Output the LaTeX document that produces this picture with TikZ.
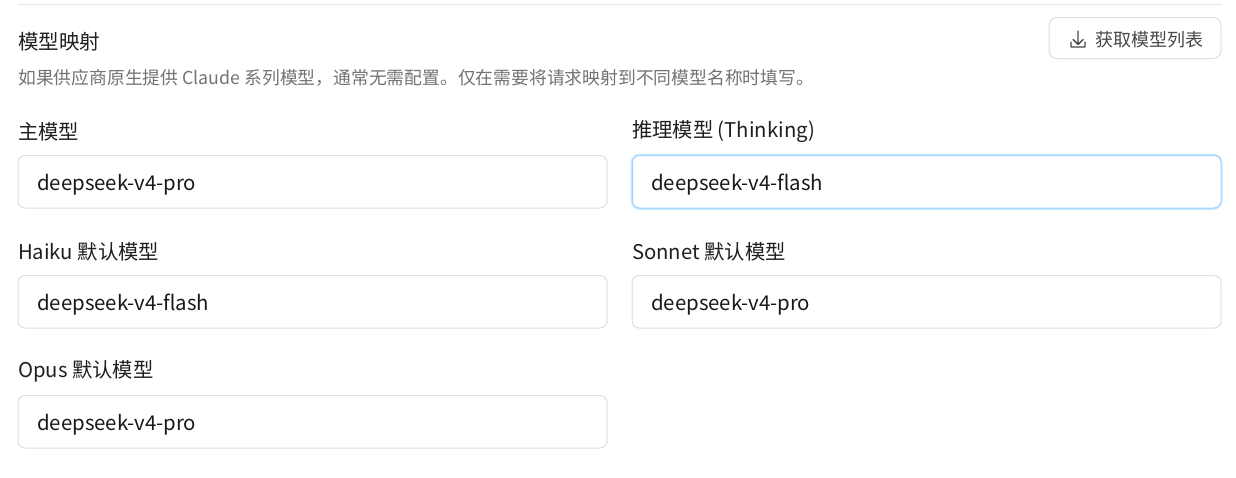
\documentclass[tikz,border=0pt]{standalone}
\usepackage{fontspec}
\setmainfont{Noto Sans CJK SC}
\begin{document}
\begin{tikzpicture}[x=1pt,y=-1pt,
  lab/.style={anchor=west,inner sep=0,font=\fontsize{20.3}{24}\selectfont,text=black!88},
  val/.style={anchor=west,inner sep=0,font=\fontsize{20.4}{24}\selectfont,text=black!90},
  box/.style={draw=black!13,line width=1pt,rounded corners=7pt,fill=white}]
\useasboundingbox[fill=white] (0,0) rectangle (1236,477);
\draw[black!10,line width=1pt] (18,4.5) -- (1222,4.5);
\node[anchor=west,inner sep=0,font=\fontsize{20.5}{24}\selectfont,text=black!88] (title) at (18,41.5) {模型映射};
\node[draw=black!13,line width=1pt,rounded corners=8pt,minimum width=172pt,minimum height=41pt,inner sep=0] (btn) at (1135,38) {};
\node[anchor=west,inner sep=0,font=\fontsize{18}{20}\selectfont,text=black!72] (btnt) at (1095,39.5) {获取模型列表};
\draw[black!72,line width=1.4pt,line cap=round,line join=round] (1078,31) -- (1078,44) (1073,39.5) -- (1078,44.5) -- (1083,39.5) (1071,42) -- (1071,47) -- (1085,47) -- (1085,42);
\node[anchor=west,inner sep=0,font=\fontsize{17.8}{20}\selectfont,text=black!55] (desc) at (18,78) {如果供应商原生提供 Claude 系列模型，通常无需配置。仅在需要将请求映射到不同模型名称时填写。};
\node[lab] (l1) at (18,131.5) {主模型};
\node[lab] (l2) at (632,131.5) {推理模型 (Thinking)};
\node[lab] (l3) at (18,251.5) {Haiku 默认模型};
\node[lab] (l4) at (632,251.5) {Sonnet 默认模型};
\node[lab] (l5) at (18,371.5) {Opus 默认模型};
\draw[box] (18,155.5) rectangle (607,208);
\draw[draw=blue!40!cyan!22,line width=3pt,rounded corners=8pt] (632,155) rectangle (1221,208.5);
\draw[draw=blue!50!cyan!35,line width=1pt,rounded corners=7pt,fill=white] (632.5,155.5) rectangle (1221,208);
\draw[box] (18,275.5) rectangle (607,328);
\draw[box] (632,275.5) rectangle (1221,328);
\draw[box] (18,395.5) rectangle (607,448);
\node[val] (v1) at (37,184.5) {deepseek-v4-pro};
\node[val] (v2) at (651,184.5) {deepseek-v4-flash};
\node[val] (v3) at (37,304.5) {deepseek-v4-flash};
\node[val] (v4) at (651,304.5) {deepseek-v4-pro};
\node[val] (v5) at (37,424.5) {deepseek-v4-pro};
\end{tikzpicture}
\end{document}
